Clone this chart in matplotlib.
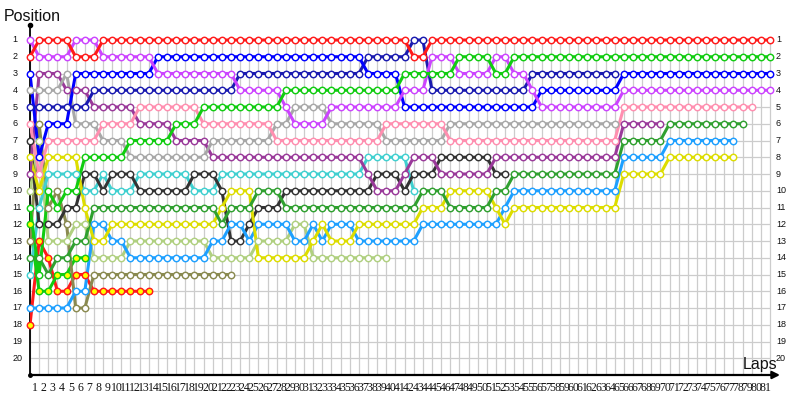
import matplotlib
matplotlib.use('Agg')
import matplotlib.pyplot as plt

# ---------------- data (position per lap, lap 0 = grid) ----------------
lap_labels = [str(i) for i in range(1, 82)]
position_labels = [str(p) for p in range(1, 21)]

red = [2] + [1]*4 + [2]*3 + [1]*34 + [2]*2 + [1]*38
violet = ([1] + [2]*4 + [1]*3 + [2]*6 + [3]*9 + [4]*5 + [5] + [6]*4 + [5]*8 +
          [4]*3 + [2]*3 + [3]*4 + [2]*2 + [3]*2 + [4] + [5]*9 + [4]*17)
blue = [3] + [8] + [6]*3 + [3]*9 + [2]*23 + [3]*4 + [5]*15 + [4]*9 + [3]*17
navy = [5]*7 + [4]*16 + [3]*14 + [2]*5 + [1]*2 + [4]*11 + [3]*10
gray = [4]*4 + [3] + [6]*3 + [7]*3 + [8]*9 + [7]*7 + [6]*2 + [5]*4 + [6]*6 + [7]*7 + [6]*19
pink = [6] + [9] + [7]*6 + [6]*4 + [5]*7 + [6]*8 + [7]*12 + [6]*7 + [7]*19 + [5]*15
purple = ([9] + [3]*3 + [4]*3 + [5]*5 + [6]*4 + [7]*4 + [8]*17 + [9] + [10]*3 + [9] +
          [8]*3 + [9]*6 + [8]*14 + [6]*5)
green = ([11, 15, 10, 11, 10, 10] + [8]*5 + [7]*5 + [6]*3 + [5]*9 + [4]*13 + [3]*6 +
         [2]*4 + [3]*2 + [2]*29)
black = ([7] + [12]*3 + [11]*2 + [9]*2 + [10] + [9]*3 + [10]*6 + [9]*3 + [10] + [13]*2 +
         [12] + [11]*3 + [10]*10 + [9]*3 + [10] + [9]*3 + [8]*6 + [9]*2)
cyan = [15, 11] + [9]*4 + [10]*2 + [9] + [10]*3 + [9]*6 + [10]*3 + [9]*16 + [8]*5 + [10]
yellow = ([8, 10] + [8]*4 + [11] + [13]*2 + [12]*12 + [11] + [10]*3 + [14]*6 + [13] + [12] +
          [13]*3 + [12]*7 + [11]*3 + [10]*5 + [11] + [12] + [11]*12 + [9]*5 + [8]*8)
lightolive = [10, 7] + [13]*3 + [12]*2 + [14]*4 + [13]*9 + [14]*5 + [13]*4 + [12]*2 + [14]*9
darkgreen = ([14, 14, 15, 14, 14, 13, 13] + [11]*14 + [12] + [11]*3 + [10]*3 + [11]*15 +
             [10]*3 + [11]*5 + [10]*2 + [9]*12 + [7]*5 + [6]*9)
green_y = [12, 16, 16, 15, 15, 14, 14]
olive = [13, 6, 11, 10, 12, 17, 17] + [15]*16
lightblue = ([17]*5 + [16]*2 + [12]*2 + [13]*2 + [14]*9 + [13]*2 + [12]*2 + [13] + [12]*4 +
             [13]*2 + [12] + [13] + [12]*3 + [13]*7 + [12]*9 + [11] + [10]*12 + [8]*5 + [7]*8)
red_y = [18, 13, 14, 16, 16, 15, 15] + [16]*7

drivers = [
    (red_y, '#ff1a1a', '#ffff00'),
    (green_y, '#11cc11', '#ffff00'),
    (olive, '#8a8a50', 'white'),
    (lightolive, '#b0d080', 'white'),
    (cyan, '#40d0d0', 'white'),
    (black, '#333333', 'white'),
    (lightblue, '#1ea0ff', 'white'),
    (yellow, '#dddd00', 'white'),
    (darkgreen, '#30a030', 'white'),
    (purple, '#9a3a9a', 'white'),
    (gray, '#a8a8a8', 'white'),
    (pink, '#ff8fb0', 'white'),
    (navy, '#1a1ab0', 'white'),
    (blue, '#0000ff', 'white'),
    (violet, '#cc44ff', 'white'),
    (green, '#11cc11', 'white'),
    (red, '#ff1a1a', 'white'),
]

# ---------------- layout ----------------
W, H = 800, 400
px_lap = 740 / 81.0          # pixels per lap
px_pos = 16.75               # pixels per position
x0, y_bottom = 30, 375       # lap 0 / position 21 in pixels
xmax = (780 - x0) / px_lap
ytop = 1 - 15 / px_pos

fig = plt.figure(figsize=(8, 4), dpi=100)
ax = fig.add_axes([x0 / W, (H - y_bottom) / H, (780 - x0) / W, (y_bottom - 25) / H])
ax.set_xlim(0, xmax)
ax.set_ylim(21, ytop)
ax.axis('off')

# grid
ax.vlines(range(0, 82), 1, 21, color='#cccccc', lw=0.9, zorder=0)
ax.hlines(range(1, 21), 0, 81, color='#cccccc', lw=0.9, zorder=0)

# axes
ax.plot([0, 0], [21, ytop], color='black', lw=1.3, clip_on=False, zorder=1)
ax.plot([0], [ytop], 'o', color='black', ms=3, clip_on=False, zorder=1)
ax.plot([0], [21], 'o', color='black', ms=2.5, clip_on=False, zorder=1)
ax.annotate('', xy=(xmax, 21), xytext=(0, 21),
            arrowprops=dict(arrowstyle='-|>', color='black', lw=1.6, mutation_scale=11,
                            shrinkA=0, shrinkB=0), annotation_clip=False)

# series
for z, (data, edge, face) in enumerate(drivers):
    laps = list(range(len(data)))
    ax.plot(laps, data, '-', color=edge, lw=2.2, zorder=2 + z * 0.01, solid_capstyle='round')
    ax.plot(laps, data, 'o', ls='none', mec=edge, mfc=face, ms=4.6, mew=1.05,
            zorder=3 + z * 0.01, clip_on=False)

# labels
for i, p in enumerate(position_labels):
    y = 40 + i * px_pos
    fig.text(12.5 / W, 1 - y / H, p, ha='left', va='center', fontsize=6.5,
             family='Liberation Sans', color='#111111')
    fig.text(776 / W, 1 - y / H, p, ha='left', va='center', fontsize=6.5,
             family='Liberation Sans', color='#111111')

for i, lab in enumerate(lap_labels):
    x = x0 + (i + 0.5) * px_lap
    fig.text(x / W, 1 - 388 / H, lab, ha='center', va='center', fontsize=8.5,
             family='Liberation Serif', color='#111111')

fig.text(4 / W, 1 - 21 / H, 'Position', ha='left', va='baseline', fontsize=11.5,
         family='Liberation Sans', color='#111111')
fig.text(743 / W, 1 - 369 / H, 'Laps', ha='left', va='baseline', fontsize=11.5,
         family='Liberation Sans', color='#111111')

fig.savefig('out.png', dpi=100, facecolor='white')
